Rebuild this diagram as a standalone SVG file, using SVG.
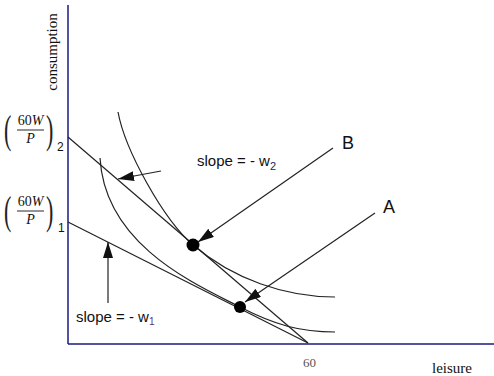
<svg xmlns="http://www.w3.org/2000/svg" width="494" height="376" viewBox="0 0 494 376">
<style>
.ax{stroke:#1a1a80;stroke-width:1.5;fill:none}
.ln{stroke:#222;stroke-width:1.2;fill:none}
.arr{stroke:#222;stroke-width:1.2;fill:none;marker-end:url(#ah)}
.sans{font-family:"Liberation Sans",Arial,sans-serif;fill:#111}
.serif{font-family:"Liberation Serif","Times New Roman",serif;fill:#111}
.par{font-family:"Liberation Serif","Times New Roman",serif;font-size:40px;fill:#222}
</style>
<defs>
<marker id="ah" viewBox="0 0 16 10" refX="16" refY="5" markerWidth="16" markerHeight="10" markerUnits="userSpaceOnUse" orient="auto">
<path d="M0,0 L16,5 L0,10 Z" fill="#111"/>
</marker>
</defs>
<g id="axes">
<line class="ax" x1="68" y1="5" x2="68" y2="344"/>
<line class="ax" x1="68" y1="344" x2="494" y2="344"/>
<text class="serif" font-size="15" transform="translate(57,52) rotate(-90)" text-anchor="middle">consumption</text>
<text class="serif" font-size="15" x="432" y="373">leisure</text>
<text class="serif" font-size="13" x="303" y="367" style="fill:#555">60</text>
</g>
<g id="label-w2">
<text class="par" transform="translate(4,143) scale(0.55,1)">(</text>
<text class="par" transform="translate(46,143) scale(0.55,1)">)</text>
<text class="serif" font-size="14" x="30.5" y="125" text-anchor="middle">60<tspan font-style="italic">W</tspan></text>
<line x1="17" y1="130" x2="44" y2="130" stroke="#111" stroke-width="0.9"/>
<text class="serif" font-size="14" x="30.5" y="143" text-anchor="middle" font-style="italic">P</text>
<text class="sans" font-size="12" x="57" y="151">2</text>
</g>
<g id="label-w1">
<text class="par" transform="translate(4,224) scale(0.55,1)">(</text>
<text class="par" transform="translate(46,224) scale(0.55,1)">)</text>
<text class="serif" font-size="14" x="30.5" y="206" text-anchor="middle">60<tspan font-style="italic">W</tspan></text>
<line x1="17" y1="211" x2="44" y2="211" stroke="#111" stroke-width="0.9"/>
<text class="serif" font-size="14" x="30.5" y="224" text-anchor="middle" font-style="italic">P</text>
<text class="sans" font-size="12" x="58" y="232">1</text>
</g>
<g id="budget-lines">
<line class="ln" x1="68" y1="137" x2="308" y2="343"/>
<line class="ln" x1="68" y1="222" x2="308" y2="343"/>
</g>
<g id="indifference-curves">
<path class="ln" d="M118,112 C125,150 163,219 193,245 C233,279 285,297 335,297"/>
<path class="ln" d="M100,158 C105,245 195,284 240,307 C275,325 300,332 335,332"/>
</g>
<g id="point-B"><circle cx="193" cy="245" r="6.5" fill="#000"/></g>
<g id="point-A"><circle cx="240" cy="307" r="6" fill="#000"/></g>
<g id="connectors">
<line class="arr" x1="333" y1="148" x2="198" y2="242"/>
<line class="arr" x1="375" y1="213" x2="245" y2="302"/>
<line class="arr" x1="161" y1="171" x2="118" y2="179"/>
<line class="arr" x1="108" y1="303" x2="108" y2="242"/>
</g>
<g id="labels">
<text class="sans" font-size="18" x="342" y="149">B</text>
<text class="sans" font-size="18" x="383" y="213">A</text>
<text class="sans" font-size="15" x="197" y="166">slope  = - w<tspan font-size="11" dy="4" fill="#222060">2</tspan></text>
<text class="sans" font-size="15" x="76" y="322">slope = - w<tspan font-size="10" dy="3" fill="#603070">1</tspan></text>
</g>
</svg>
